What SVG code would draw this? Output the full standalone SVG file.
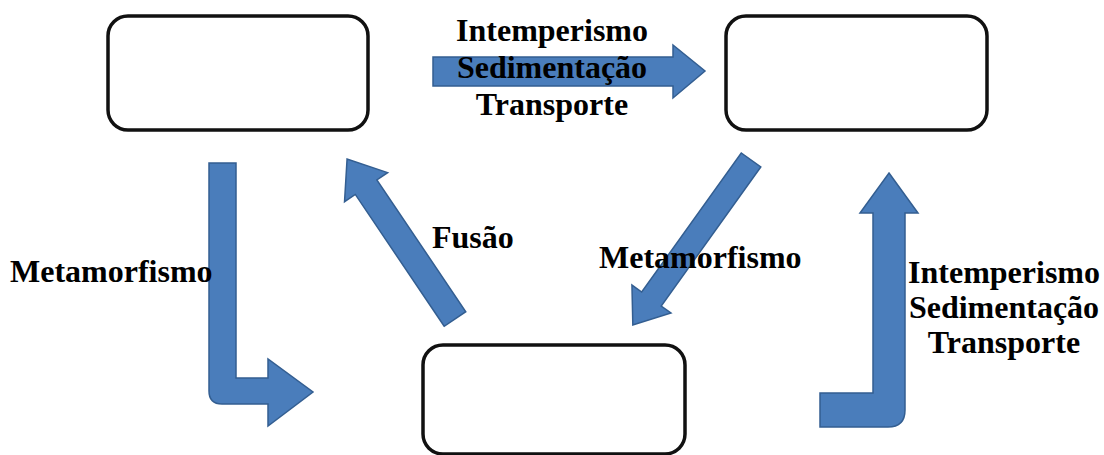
<svg xmlns="http://www.w3.org/2000/svg" width="1104" height="455" viewBox="0 0 1104 455">
<style>
.box{fill:#fff;stroke:#111;stroke-width:3.5}
.arr{fill:#4a7dbb;stroke:#335e91;stroke-width:1.5;stroke-linejoin:miter}
.lbl{font-family:"Liberation Serif","Times New Roman",serif;font-weight:bold;font-size:32px;fill:#000}
</style>
<rect width="1104" height="455" fill="#fff"/>
<g id="node-top-left"><rect class="box" x="108" y="16" width="260" height="114" rx="20"/></g>
<g id="node-top-right"><rect class="box" x="726" y="16" width="261" height="114" rx="20"/></g>
<g id="node-bottom"><rect class="box" x="423" y="345" width="262" height="109" rx="20"/></g>
<g id="connectors">
<path class="arr" d="M433,57 H673 V45 L705,71 L673,98 V86 H433 Z"/>
<path class="arr" d="M209,163 H236 V378 H268 V359 L313,392 L268,426 V404 H222 Q209,404 209,391 Z"/>
<path class="arr" transform="translate(455,319) rotate(-124)" d="M0,-13 H159 V-26 L193,0 L159,26 V13 H0 Z"/>
<path class="arr" transform="translate(751,160) rotate(125.6)" d="M0,-12 H171 V-24 L203,0 L171,24 V12 H0 Z"/>
<path class="arr" d="M889,173 L918,213 H905 V410 Q905,427 888,427 H820 V393 H873 V213 H860 Z"/>
</g>
<g id="labels">
<text class="lbl" x="552" y="41" text-anchor="middle">Intemperismo</text>
<text class="lbl" x="552" y="78" text-anchor="middle">Sedimentação</text>
<text class="lbl" x="552" y="115" text-anchor="middle">Transporte</text>
<text class="lbl" x="10" y="282">Metamorfismo</text>
<text class="lbl" x="432" y="248">Fusão</text>
<text class="lbl" x="599" y="268">Metamorfismo</text>
<text class="lbl" x="1004" y="283" text-anchor="middle">Intemperismo</text>
<text class="lbl" x="1004" y="318" text-anchor="middle">Sedimentação</text>
<text class="lbl" x="1004" y="353" text-anchor="middle">Transporte</text>
</g>
</svg>
